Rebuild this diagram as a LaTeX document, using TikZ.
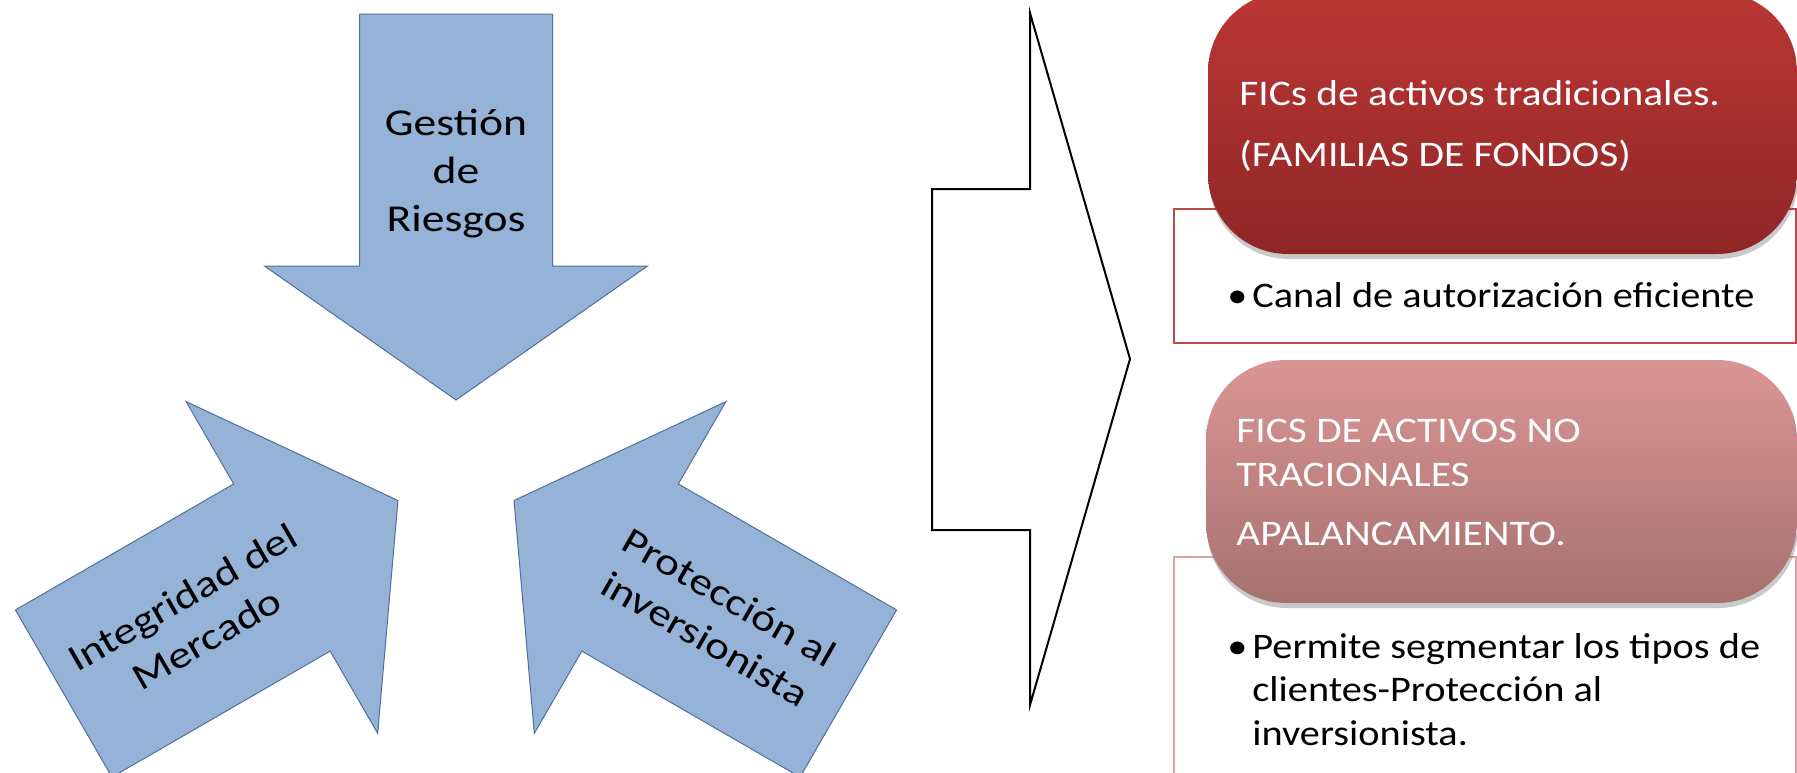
\documentclass[tikz,border=0pt]{standalone}
\usepackage{fontspec}
\usepackage{graphicx}
\setmainfont{Carlito}
\usetikzlibrary{calc,shadows}

\definecolor{arrowblue}{HTML}{95B3D7}
\definecolor{arrowline}{HTML}{50709C}
\definecolor{redtop}{HTML}{BA3735}
\definecolor{redbottom}{HTML}{902626}
\definecolor{pinktop}{HTML}{DA9695}
\definecolor{pinkbottom}{HTML}{A67170}
\definecolor{redframe}{HTML}{B94A47}
\definecolor{pinkframe}{HTML}{DCA3A2}

% text in the slide is a little wider than plain Calibri
\newcommand{\xwide}[1]{\scalebox{1.2}[1]{#1}}
\newcommand{\xboxwide}[1]{\scalebox{1.15}[1]{#1}}
\newcommand{\xitemwide}[1]{\scalebox{1.12}[1]{#1}}

\tikzset{
  bluearrow/.style={fill=arrowblue, draw=arrowline, line width=0.5pt},
  arrowtext/.style={align=center, inner sep=0pt, font=\fontsize{19}{24}\selectfont},
  boxtext/.style={anchor=base west, inner sep=0pt, text=white, font=\fontsize{18}{22}\selectfont},
  itemtext/.style={anchor=base west, inner sep=0pt, font=\fontsize{18}{22}\selectfont},
  boxshadow/.style={drop shadow={shadow xshift=0.5pt, shadow yshift=-2.5pt, opacity=0.3, fill=black!70}}
}

\begin{document}
\begin{tikzpicture}[x=0.5pt, y=0.5pt]

    \useasboundingbox (0,0) rectangle (1797,-772);

    % Centre where the three blue arrows meet
    \coordinate (C) at (456,-467);

    % Three blue block arrows (same shape, rotated round C)
    \foreach \ang in {-90,30,150} {
        \begin{scope}[shift={(C)}, rotate=\ang]
            \draw[bluearrow] (-67,0) -- (-201,191.5) -- (-201,96.5) -- (-453,96.5)
                -- (-453,-96.5) -- (-201,-96.5) -- (-201,-191.5) -- cycle;
        \end{scope}
    }

    % Labels on the arrows
    \node[arrowtext] (gestion) at ($(C)+(90:293)$) {\xwide{Gestión}\\\xwide{de}\\\xwide{Riesgos}};
    \node[arrowtext, rotate=30] (integridad) at ($(C)+(210:302)$) {\xwide{Integridad del}\\\xwide{Mercado}};
    \node[arrowtext, rotate=-30] (proteccion) at ($(C)+(330:302)$) {\xwide{Protección al}\\\xwide{inversionista}};

    % Big white arrow pointing to the boxes
    \draw[line width=1pt, fill=white] (932,-189) -- (1030,-189) -- (1030,-13) -- (1130,-359)
        -- (1030,-705) -- (1030,-530) -- (932,-530) -- cycle;

    % Upper box: traditional funds
    \draw[redframe, line width=0.8pt] (1174,-209) rectangle (1796,-343);
    \shade[top color=redtop, bottom color=redbottom, rounded corners=40, boxshadow] (1208,8) rectangle (1797,-254);
    \node[boxtext] (trad1) at (1239,-105) {\xboxwide{FICs de activos tradicionales.}};
    \node[boxtext] (trad2) at (1239,-166) {\xboxwide{(FAMILIAS DE FONDOS)}};
    \node[itemtext] (bulletA) at (1227,-307) {\xitemwide{•}};
    \node[itemtext] (canal) at (1252,-307) {\xitemwide{Canal de autorización eficiente}};

    % Lower box: non traditional funds
    \draw[pinkframe, line width=0.8pt] (1174,-557) rectangle (1796,-800);
    \shade[top color=pinktop, bottom color=pinkbottom, rounded corners=40, boxshadow] (1206,-360) rectangle (1797,-603);
    \node[boxtext] (notrad1) at (1236,-442) {\xboxwide{FICS DE ACTIVOS NO}};
    \node[boxtext] (notrad2) at (1236,-486) {\xboxwide{TRACIONALES}};
    \node[boxtext] (notrad3) at (1236,-545) {\xboxwide{APALANCAMIENTO.}};
    \node[itemtext] (bulletB) at (1227,-658) {\xitemwide{•}};
    \node[itemtext] (permite1) at (1252,-658) {\xitemwide{Permite segmentar los tipos de}};
    \node[itemtext] (permite2) at (1252,-701) {\xitemwide{clientes-Protección al}};
    \node[itemtext] (permite3) at (1252,-745) {\xitemwide{inversionista.}};

\end{tikzpicture}
\end{document}
